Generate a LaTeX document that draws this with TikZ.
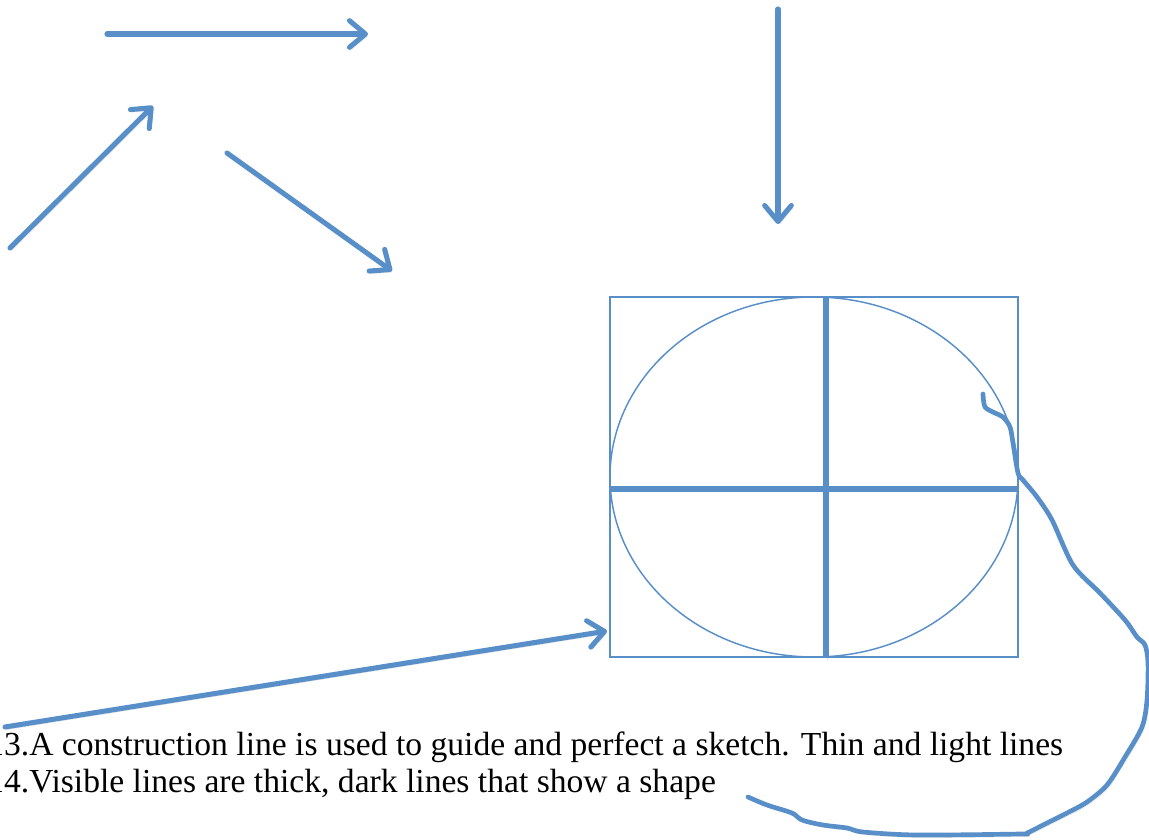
\documentclass[tikz,border=0pt]{standalone}
\usepackage{fontspec}
\setmainfont{Liberation Serif}
\usetikzlibrary{positioning,arrows.meta,shapes.geometric}
\definecolor{sketchblue}{RGB}{88,143,201}

\begin{document}
\begin{tikzpicture}[
  x=0.75pt, y=-0.75pt,
  softshadow/.style={preaction={draw=black!50, opacity=0.22, transform canvas={shift={(1.3pt,-1.9pt)}}}},
  arrowline/.style={draw=sketchblue, line width=3.8pt, line cap=round, softshadow,
    -{Straight Barb[length=12pt, width=20pt, round]}},
  guide/.style={draw=sketchblue, line width=1.1pt, inner sep=0pt,
    minimum width=306pt, minimum height=270pt},
  crossline/.style={draw=sketchblue, line width=3.8pt, softshadow},
  freehand/.style={draw=sketchblue, line width=3.5pt, line cap=round, line join=round, softshadow},
  note/.style={anchor=base west, inner sep=0pt, font=\fontsize{25.2}{27.75}\selectfont}
]
  \useasboundingbox (0,0) rectangle (1149,839);

  % loose arrows
  \coordinate (topS) at (107,34);   \coordinate (topT) at (368,34);
  \coordinate (upS) at (10,248);    \coordinate (upT) at (153,106);
  \coordinate (downS) at (227,153); \coordinate (downT) at (392,271);
  \coordinate (vertS) at (778,9);   \coordinate (vertT) at (778,224);
  \coordinate (longS) at (5,727);   \coordinate (longT) at (607,631);

  \foreach \s/\t in {topS/topT, upS/upT, downS/downT, vertS/vertT, longS/longT}
    \draw[arrowline] (\s) -- (\t);

  % box, oval and centre lines
  \node[guide, rectangle] (box) at (814,477) {};
  \node[guide, ellipse] (oval) at (box.center) {};
  \coordinate (vtop) at (826,297);  \coordinate (vbot) at (826,657);
  \coordinate (hleft) at (610,489); \coordinate (hright) at (1018,489);
  \draw[crossline] (vtop) -- (vbot);
  \draw[crossline] (hleft) -- (hright);

  % freehand loop
  \draw[freehand] plot[smooth, tension=0.5] coordinates {
    (983,394) (985,407) (995,413) (1003,417) (1010,427) (1013,443) (1018,473)
    (1023,480) (1037,497) (1052,520) (1073,565) (1100,593) (1125,620)
    (1137,637) (1145,645) (1148,663) (1147,700) (1142,727) (1125,757)
    (1107,785) (1087,802) (1067,813) (1047,823) (1027,833) (1020,834)
    (917,835) (863,832) (847,828) (823,825) (802,820) (792,813) (767,805) (748,797)};

  % notes
  \node[note] (line13) at (-13,755) {13.A construction line is used to guide and perfect a sketch. Thin and light lines};
  \node[note] (line14) at (-13,792) {14.Visible lines are thick, dark lines that show a shape};
\end{tikzpicture}
\end{document}
